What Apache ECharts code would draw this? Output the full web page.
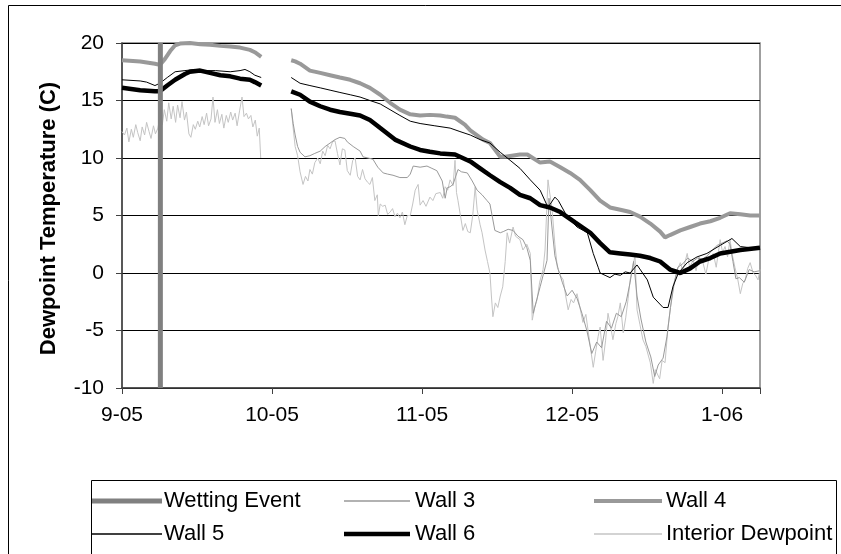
<!DOCTYPE html>
<html>
<head>
<meta charset="utf-8">
<script src="https://cdn.jsdelivr.net/npm/echarts@6/dist/echarts.min.js"></script>
<style>
html,body{margin:0;padding:0;background:#fff;}
#chart{width:841px;height:554px;}
</style>
</head>
<body>
<div id="chart"></div>
<script>
// x values are days since 1 Sep 2005
var monthLabels = ['9-05', '10-05', '11-05', '12-05', '1-06'];
var monthStep = 30.5;
var yTicks = [-10, -5, 0, 5, 10, 15, 20];

var wetting = [[7.8, -10], [7.8, 20]];

var wall4 = [[0,18.5],[3.7,18.4],[6.7,18.2],[7.7,18.1],[8.7,18.6],[9.8,19.3],[10.8,19.8],[11.8,19.95],[13.8,20.0],[15.9,19.9],[17.9,19.85],[20,19.75],[22,19.7],[24,19.6],[26,19.4],[27,19.2],[28.3,18.8],
  [31,'-'],
  [34.4,18.5],[35.2,18.4],[36.2,18.2],[37.2,17.9],[38.2,17.6],[40.3,17.4],[42.3,17.2],[44.3,17.0],[46.4,16.8],[48.4,16.5],[50.4,16.1],[52.5,15.5],[54.5,14.8],[56.5,14.2],[58.6,13.8],[60.6,13.7],[62.6,13.75],[64.7,13.7],[66,13.6],[67.7,13.5],[69.7,12.9],[70.8,12.4],[73.4,11.6],[74.8,11.3],[76.9,10.1],[77.9,10.1],[80.9,10.3],[82.4,10.3],[85,9.6],[87,9.7],[89.1,9.2],[91.1,8.7],[93.1,8.1],[95.2,7.2],[97.2,6.3],[99.2,5.7],[101.3,5.5],[103.3,5.3],[105.3,4.9],[107.4,4.3],[109.4,3.6],[110.4,3.1],[111.4,3.3],[113.5,3.7],[115.5,4.0],[117.5,4.3],[119.6,4.5],[121.6,4.8],[123.6,5.2],[125.7,5.1],[127.7,5.0],[129.7,5.0]];

var wall5 = [[0,16.8],[3.7,16.7],[5,16.6],[6.7,16.3],[7.7,16.5],[9.2,17.0],[10.8,17.5],[12.8,17.6],[14.8,17.7],[16.9,17.6],[19,17.6],[22,17.5],[24,17.6],[25,17.7],[26,17.5],[27,17.2],[28.3,17.0],
  [31,'-'],
  [34.4,17.0],[36.2,16.5],[38.2,16.3],[40.3,16.1],[42.3,15.9],[44.3,15.7],[46.4,15.5],[48.4,15.3],[50.4,15.0],[52.5,14.7],[54.5,14.2],[56.5,13.7],[58.6,13.2],[60.6,13.0],[63.6,12.8],[66.7,12.6],[68.7,12.3],[70.8,12.0],[72.8,11.6],[74.8,11.3],[76.9,10.5],[78.9,9.8],[80.9,9.1],[83,8.1],[85,7.2],[86.6,5.7],[88,6.6],[88.7,6.3],[90.5,4.9],[92.5,4.0],[94.6,3.5],[95.8,1.7],[96.8,0.5],[97.2,0.0],[98.2,-0.2],[99.2,-0.4],[100.2,-0.1],[101.3,-0.2],[102.3,0.1],[103.3,0.0],[104.7,0.7],[106.8,-0.6],[108,-2.1],[110,-3.0],[111,-3.0],[112,-1.2],[113.1,0.0],[114.9,0.9],[116.9,1.4],[118.9,1.7],[121.6,2.4],[124,3.0],[125.7,2.3],[127.7,2.2],[129.7,2.2]];

var wall6 = [[0,16.1],[3.7,15.9],[6.7,15.8],[7.7,15.8],[9.2,16.3],[10.8,16.8],[12.8,17.3],[13.8,17.5],[15.9,17.6],[17.9,17.4],[20,17.2],[22,17.1],[24,16.9],[26,16.8],[27,16.6],[28.3,16.3],
  [31,'-'],
  [34.4,15.8],[36.2,15.5],[38.2,14.9],[40.3,14.5],[42.3,14.2],[44.3,14.0],[46.4,13.85],[48.4,13.7],[50.4,13.3],[52.5,12.6],[55.5,11.6],[58.6,11.0],[60.6,10.7],[62.6,10.55],[64.7,10.4],[67.7,10.3],[70.8,9.7],[72.8,9.1],[74.8,8.5],[76.9,7.9],[78.9,7.4],[80.9,6.8],[83,6.5],[85,5.9],[87,5.7],[89.1,5.3],[92.1,4.4],[95.2,3.5],[97.2,2.6],[99.2,1.8],[101.3,1.7],[103.3,1.6],[105.3,1.5],[107.4,1.3],[109.4,1.0],[111.4,0.3],[113.5,0.0],[115.5,0.4],[117.5,1.0],[119.6,1.3],[121.6,1.7],[125.7,2.0],[129.7,2.2]];

var wall3 = [[34.4,14.3],[34.8,13.0],[35.2,12.0],[35.7,11.0],[36.2,10.5],[37.2,10.1],[38.2,10.2],[39.2,10.4],[40.3,10.6],[41.3,11.0],[42.3,11.3],[43.3,11.6],[44.3,11.8],[45.3,11.7],[45.8,11.4],[47.0,11.0],[48.4,10.6],[49.0,10.1],[50.0,10.0],[51.0,9.9],[52.0,9.2],[53.1,8.7],[54.0,8.6],[55.1,8.5],[56.5,8.3],[58.0,8.3],[58.6,8.6],[59.2,9.3],[60.6,9.2],[62.0,9.3],[63.0,9.1],[64.0,8.9],[65.1,8.0],[65.7,6.5],[66.1,7.4],[66.7,7.5],[67.3,7.7],[68.3,9.0],[69.0,8.8],[70.2,8.7],[71.2,8.0],[72.2,7.2],[73.2,6.8],[74.2,6.3],[74.8,6.0],[75.8,3.7],[76.9,3.5],[77.5,3.6],[78.5,3.8],[79.5,3.7],[80.5,3.2],[81.5,2.9],[82.3,2.2],[83.0,1.1],[83.6,-3.5],[84.2,-2.5],[85.0,-1.2],[86.4,1.1],[86.8,6.5],[87.4,4.0],[88.0,1.5],[88.7,0.3],[89.5,-0.8],[90.5,-2.0],[91.5,-1.5],[92.5,-2.2],[93.5,-3.5],[94.5,-5.0],[95.5,-7.0],[96.5,-6.0],[97.5,-6.5],[98.5,-4.2],[99.5,-4.8],[100.5,-3.5],[101.5,-3.8],[102.5,-2.5],[103.3,-0.8],[104.0,1.0],[104.7,-2.0],[105.5,-4.0],[106.5,-6.0],[107.5,-7.3],[108.3,-9.0],[109.0,-8.0],[110.0,-7.4],[110.8,-5.5],[111.5,-3.0],[112.3,-0.8],[113.0,0.5],[114.0,0.8],[115.0,1.3],[116.0,1.0],[117.0,1.3],[118.0,1.2],[119.0,1.5],[120.0,2.0],[121.0,2.4],[122.0,2.6],[123.0,2.8],[123.6,2.5],[124.2,1.0],[124.8,-0.5],[125.5,-0.4],[126.5,-0.8],[127.5,0.3],[128.5,0.1],[129.7,0.2]];

var interior = [[0,12.3],[0.5,12.0],[1.0,12.6],[1.4,11.4],[1.9,12.5],[2.3,11.8],[2.8,12.9],[3.2,12.2],[3.7,11.5],[4.1,12.7],[4.6,12.0],[5.0,13.1],[5.5,12.3],[5.9,11.7],[6.4,12.8],[6.8,12.1],[7.3,12.6],[7.7,13.6],[8.2,12.9],[8.6,14.2],[9.1,13.2],[9.5,14.8],[10.0,13.4],[10.4,14.5],[10.9,13.1],[11.3,14.6],[11.8,13.5],[12.2,14.9],[12.7,13.3],[13.1,14.0],[13.6,12.1],[14.0,11.8],[14.5,12.9],[14.9,12.5],[15.4,13.2],[15.8,12.7],[16.3,13.6],[16.7,12.9],[17.2,13.9],[17.6,12.8],[18.1,13.4],[18.5,15.3],[18.9,13.1],[19.4,14.2],[19.8,13.0],[20.3,13.8],[20.7,12.6],[21.2,13.7],[21.6,13.1],[22.1,14.0],[22.5,13.3],[23.0,13.9],[23.4,12.8],[23.9,14.1],[24.4,15.3],[24.8,13.6],[25.3,13.9],[25.7,13.4],[26.2,13.7],[26.6,12.7],[27.1,13.3],[27.5,11.9],[27.9,12.6],[28.2,10.0],
  [31,'-'],
  [34.4,14.3],[34.8,12.6],[35.2,11.0],[35.7,10.2],[36.2,8.8],[36.8,7.7],[37.3,8.4],[37.8,8.0],[38.2,9.0],[38.7,8.6],[39.2,9.6],[39.8,10.0],[40.3,9.5],[40.8,10.6],[41.3,10.2],[41.8,11.1],[42.3,10.8],[42.8,11.4],[43.3,11.5],[43.8,10.4],[44.3,9.4],[44.8,10.8],[45.3,10.7],[45.8,8.9],[46.4,8.5],[46.9,9.8],[47.4,10.0],[47.9,8.4],[48.4,8.1],[48.9,9.0],[49.4,8.2],[49.9,7.9],[50.4,7.7],[50.9,8.3],[51.4,6.3],[51.9,6.8],[52.1,5.0],[52.5,6.0],[53.0,5.8],[53.5,5.9],[54.0,5.1],[54.5,5.3],[55.0,5.6],[55.5,4.9],[56.0,5.2],[56.5,4.8],[57.0,5.3],[57.5,4.2],[58.0,5.0],[58.6,5.0],[59.1,6.0],[59.6,7.2],[60.2,7.7],[60.6,5.9],[61.2,6.3],[61.8,5.8],[62.6,6.6],[63.2,6.3],[63.8,6.9],[64.7,7.0],[65.2,6.5],[65.7,7.5],[66.2,7.2],[66.7,8.1],[67.3,7.6],[67.7,9.8],[68.0,7.0],[68.3,6.3],[68.8,5.0],[69.3,3.7],[69.8,4.3],[70.3,3.6],[70.8,3.5],[71.3,5.0],[71.8,7.5],[72.2,5.5],[72.8,4.2],[73.2,3.5],[73.8,2.0],[74.3,1.0],[74.8,0.0],[75.1,-2.0],[75.4,-3.8],[75.9,-2.6],[76.4,-3.0],[76.9,-2.0],[77.4,-1.2],[77.9,1.0],[78.3,3.5],[78.8,2.6],[79.5,4.0],[80.0,3.2],[80.9,2.9],[81.5,2.0],[82.3,2.5],[83.0,1.7],[83.4,-4.1],[83.9,-3.0],[84.4,-2.3],[84.9,-0.8],[85.6,0.3],[86.0,2.0],[86.6,8.1],[87.0,6.8],[87.4,5.7],[88.0,2.5],[88.5,0.5],[89.1,-0.2],[89.7,-0.6],[90.2,-2.0],[90.7,-3.2],[91.3,-2.3],[91.8,-2.6],[92.5,-1.8],[93.1,-3.0],[93.7,-4.3],[94.3,-3.6],[95.2,-6.4],[95.8,-8.2],[96.3,-6.8],[96.8,-5.5],[97.2,-4.7],[97.8,-7.6],[98.3,-5.9],[98.8,-3.5],[99.3,-4.6],[99.8,-5.8],[100.4,-4.4],[100.8,-3.8],[101.3,-2.6],[101.9,-5.2],[102.4,-3.9],[102.9,-2.2],[103.3,-0.6],[103.8,0.5],[104.3,1.5],[104.7,-3.2],[105.3,-4.5],[105.9,-5.8],[106.5,-6.4],[107.4,-7.8],[108.0,-9.6],[108.4,-8.4],[108.8,-8.4],[109.3,-9.2],[109.8,-7.6],[110.4,-7.8],[111.0,-4.7],[111.5,-3.0],[112.0,-1.2],[112.5,-0.4],[112.9,0.3],[113.5,0.9],[114.0,0.2],[114.9,1.7],[115.4,0.5],[116.1,1.1],[116.7,0.2],[117.3,1.4],[118.1,0.9],[118.7,-0.1],[119.3,1.2],[120.2,1.7],[120.8,0.5],[121.6,2.9],[122.1,1.8],[122.6,2.3],[123.1,1.4],[123.6,2.9],[124.1,1.5],[124.6,0.5],[125.2,-0.6],[125.7,-1.8],[126.2,-0.9],[126.7,-0.6],[127.2,0.4],[127.7,0.9],[128.3,0.0],[128.8,-0.2],[129.3,-0.6],[129.7,0.3]];

var FONT = 'Liberation Sans, Arial, sans-serif';

var seriesNames = ['Wetting Event', 'Wall 3', 'Wall 4', 'Wall 5', 'Wall 6', 'Interior Dewpoint'];
var seriesColors = ['#808080', '#999999', '#999999', '#000000', '#000000', '#c4c4c4'];
var seriesWidths = [5, 1, 4, 1, 4.5, 1];

function lineSeries(i, data, z) {
  return {
    name: seriesNames[i], type: 'line', data: data, symbol: 'none', showSymbol: false,
    connectNulls: false, animation: false, z: z,
    lineStyle: { color: seriesColors[i], width: seriesWidths[i] },
    itemStyle: { color: seriesColors[i] }
  };
}

// one legend entry per component so every sample can have its own thickness
function legendItem(i, left, top, width, pad) {
  return {
    left: left, top: top, padding: 0, selectedMode: false,
    icon: 'rect', itemWidth: width, itemHeight: seriesWidths[i] === 1 ? 1.4 : seriesWidths[i],
    itemStyle: { color: seriesColors[i], borderWidth: 0 },
    textStyle: { fontFamily: FONT, fontSize: 22, color: '#000', padding: [0, 0, 0, pad] },
    data: [seriesNames[i]]
  };
}

var chart = echarts.init(document.getElementById('chart'), null, { renderer: 'canvas' });

chart.setOption({
  animation: false,
  backgroundColor: '#fff',
  graphic: [
    { type: 'rect', shape: { x: 8.5, y: 5.5, width: 850, height: 560 }, style: { fill: 'none', stroke: '#000', lineWidth: 1 }, z: -10 },
    { type: 'rect', shape: { x: 91.5, y: 480.5, width: 745, height: 90 }, style: { fill: 'none', stroke: '#000', lineWidth: 1 }, z: -10 }
  ],
  grid: { left: 122, top: 43, width: 638, height: 345, show: true, borderColor: '#808080', borderWidth: 1.5, backgroundColor: 'transparent' },
  legend: [
    legendItem(0, 92, 490, 70, -3), legendItem(1, 344, 490, 66, 0), legendItem(2, 594, 490, 68, -1),
    legendItem(3, 92, 523, 70, -3), legendItem(4, 344, 523, 66, 0), legendItem(5, 594, 523, 68, -1)
  ],
  xAxis: {
    type: 'value', min: 0, max: 129.7, interval: monthStep,
    axisLine: { show: true, onZero: false, lineStyle: { color: '#404040', width: 1.5 } },
    axisTick: { show: true, inside: false, length: 6, lineStyle: { color: '#404040' } },
    splitLine: { show: false },
    axisLabel: {
      margin: 17, fontFamily: FONT, fontSize: 21, color: '#000',
      formatter: function (v) {
        var i = Math.round(v / monthStep);
        return Math.abs(v - i * monthStep) < 0.01 && monthLabels[i] ? monthLabels[i] : '';
      }
    }
  },
  yAxis: {
    type: 'value', min: yTicks[0], max: yTicks[yTicks.length - 1], interval: 5,
    name: 'Dewpoint Temperature (C)', nameLocation: 'middle', nameRotate: 90, nameGap: 62,
    nameTextStyle: { fontFamily: FONT, fontSize: 22, fontWeight: 'bold', color: '#000', padding: [0, 6, 0, 0] },
    axisLine: { show: true, lineStyle: { color: '#404040', width: 1.5 } },
    axisTick: { show: true, inside: false, length: 6, lineStyle: { color: '#404040' } },
    splitLine: { show: true, lineStyle: { color: '#000', width: 1 } },
    axisLabel: { margin: 18, fontFamily: FONT, fontSize: 21, color: '#000' }
  },
  series: [
    lineSeries(0, wetting, 10),
    lineSeries(1, wall3, 3),
    lineSeries(2, wall4, 4),
    lineSeries(3, wall5, 5),
    lineSeries(4, wall6, 4),
    lineSeries(5, interior, 2)
  ]
});
</script>
</body>
</html>
